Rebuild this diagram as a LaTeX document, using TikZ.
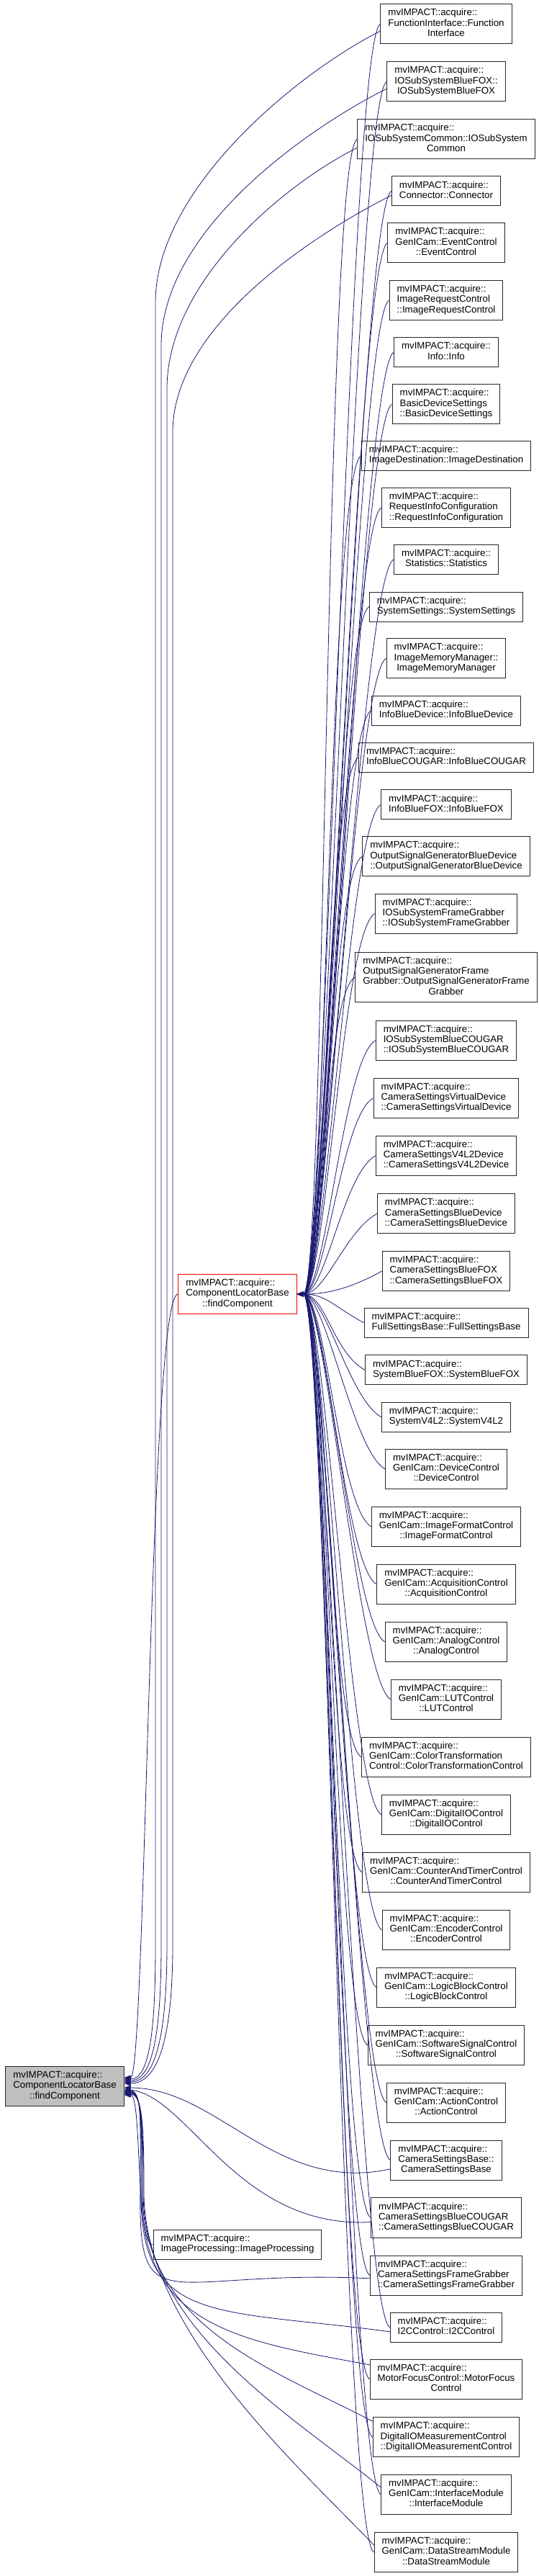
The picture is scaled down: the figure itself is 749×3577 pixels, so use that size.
\documentclass[tikz,border=0pt]{standalone}
\usepackage{fontspec}
\newfontfamily\dotfont{Liberation Sans}
\usepackage{xcolor}
\usepackage{tikz}
\usetikzlibrary{arrows.meta}

\definecolor{edgeblue}{HTML}{191970}
\definecolor{focusgray}{HTML}{BFBFBF}
\newcommand{\dotlbl}[2]{\begin{tabular}{@{}l@{}}#1\\\multicolumn{1}{@{}c@{}}{#2}\end{tabular}}

\begin{document}
\begin{tikzpicture}[
    x=1pt, y=-1pt,
    >={Triangle[length=9pt,width=7pt]},
    member/.style={draw=black!85, line width=1pt, fill=white, inner xsep=10.5pt, inner ysep=6.3pt,
      font=\dotfont\fontsize{13.3}{14.2}\selectfont},
    focus/.style={member, fill=focusgray},
    truncated/.style={member, draw=red},
    call/.style={<-, draw=edgeblue, line width=0.8pt}
  ]
  \useasboundingbox (0,0) rectangle (749,3577);
  % callee and direct callers
  \node[focus] (focus) at (90,2897) {\dotlbl{mvIMPACT::acquire::\\ComponentLocatorBase}{::findComponent}};
  \node[truncated] (fcomp) at (330,1797) {\dotlbl{mvIMPACT::acquire::\\ComponentLocatorBase}{::findComponent}};
  \node[member] (improc) at (330,3117) {\dotlbl{mvIMPACT::acquire::}{ImageProcessing::ImageProcessing}};
  % callers of the two findComponent overloads
  \node[member] (fi) at (620,33.2) {\dotlbl{mvIMPACT::acquire::\\FunctionInterface::Function}{Interface}};
  \node[member] (iobfox) at (620,113.2) {\dotlbl{mvIMPACT::acquire::\\IOSubSystemBlueFOX::}{IOSubSystemBlueFOX}};
  \node[member] (iocommon) at (620,193.2) {\dotlbl{mvIMPACT::acquire::\\IOSubSystemCommon::IOSubSystem}{Common}};
  \node[member] (conn) at (620,265.3) {\dotlbl{mvIMPACT::acquire::}{Connector::Connector}};
  \node[member] (evctrl) at (620,337.2) {\dotlbl{mvIMPACT::acquire::\\GenICam::EventControl}{::EventControl}};
  \node[member] (irctrl) at (620,417) {\dotlbl{mvIMPACT::acquire::\\ImageRequestControl}{::ImageRequestControl}};
  \node[member] (info) at (620,489.2) {\dotlbl{mvIMPACT::acquire::}{Info::Info}};
  \node[member] (basicds) at (620,561.2) {\dotlbl{mvIMPACT::acquire::\\BasicDeviceSettings}{::BasicDeviceSettings}};
  \node[member] (imgdest) at (620,632.8) {\dotlbl{mvIMPACT::acquire::}{ImageDestination::ImageDestination}};
  \node[member] (reqinfo) at (620,705) {\dotlbl{mvIMPACT::acquire::\\RequestInfoConfiguration}{::RequestInfoConfiguration}};
  \node[member] (stats) at (620,776.8) {\dotlbl{mvIMPACT::acquire::}{Statistics::Statistics}};
  \node[member] (syssettings) at (620,842.5) {\dotlbl{mvIMPACT::acquire::}{SystemSettings::SystemSettings}};
  \node[member] (imgmem) at (620,914.2) {\dotlbl{mvIMPACT::acquire::\\ImageMemoryManager::}{ImageMemoryManager}};
  \node[member] (infobd) at (620,986.5) {\dotlbl{mvIMPACT::acquire::}{InfoBlueDevice::InfoBlueDevice}};
  \node[member] (infobc) at (620,1052) {\dotlbl{mvIMPACT::acquire::}{InfoBlueCOUGAR::InfoBlueCOUGAR}};
  \node[member] (infobf) at (620,1117.3) {\dotlbl{mvIMPACT::acquire::}{InfoBlueFOX::InfoBlueFOX}};
  \node[member] (osgbd) at (620,1189.2) {\dotlbl{mvIMPACT::acquire::\\OutputSignalGeneratorBlueDevice}{::OutputSignalGeneratorBlueDevice}};
  \node[member] (iofg) at (620,1268.8) {\dotlbl{mvIMPACT::acquire::\\IOSubSystemFrameGrabber}{::IOSubSystemFrameGrabber}};
  \node[member] (osgfg) at (620,1357) {\dotlbl{mvIMPACT::acquire::\\OutputSignalGeneratorFrame\\Grabber::OutputSignalGeneratorFrame}{Grabber}};
  \node[member] (iobc) at (620,1444.8) {\dotlbl{mvIMPACT::acquire::\\IOSubSystemBlueCOUGAR}{::IOSubSystemBlueCOUGAR}};
  \node[member] (csvirt) at (620,1524.7) {\dotlbl{mvIMPACT::acquire::\\CameraSettingsVirtualDevice}{::CameraSettingsVirtualDevice}};
  \node[member] (csv4l2) at (620,1604.8) {\dotlbl{mvIMPACT::acquire::\\CameraSettingsV4L2Device}{::CameraSettingsV4L2Device}};
  \node[member] (csbd) at (620,1685.2) {\dotlbl{mvIMPACT::acquire::\\CameraSettingsBlueDevice}{::CameraSettingsBlueDevice}};
  \node[member] (csbf) at (620,1765) {\dotlbl{mvIMPACT::acquire::\\CameraSettingsBlueFOX}{::CameraSettingsBlueFOX}};
  \node[member] (fullsb) at (620,1836.8) {\dotlbl{mvIMPACT::acquire::}{FullSettingsBase::FullSettingsBase}};
  \node[member] (sysbf) at (620,1902.3) {\dotlbl{mvIMPACT::acquire::}{SystemBlueFOX::SystemBlueFOX}};
  \node[member] (sysv4l2) at (620,1967.7) {\dotlbl{mvIMPACT::acquire::}{SystemV4L2::SystemV4L2}};
  \node[member] (devctrl) at (620,2039.8) {\dotlbl{mvIMPACT::acquire::\\GenICam::DeviceControl}{::DeviceControl}};
  \node[member] (ifmtctrl) at (620,2119.8) {\dotlbl{mvIMPACT::acquire::\\GenICam::ImageFormatControl}{::ImageFormatControl}};
  \node[member] (acqctrl) at (620,2199.8) {\dotlbl{mvIMPACT::acquire::\\GenICam::AcquisitionControl}{::AcquisitionControl}};
  \node[member] (anactrl) at (620,2279.8) {\dotlbl{mvIMPACT::acquire::\\GenICam::AnalogControl}{::AnalogControl}};
  \node[member] (lutctrl) at (620,2359.8) {\dotlbl{mvIMPACT::acquire::\\GenICam::LUTControl}{::LUTControl}};
  \node[member] (colctrl) at (620,2439.8) {\dotlbl{mvIMPACT::acquire::\\GenICam::ColorTransformation}{Control::ColorTransformationControl}};
  \node[member] (dioctrl) at (620,2519.8) {\dotlbl{mvIMPACT::acquire::\\GenICam::DigitalIOControl}{::DigitalIOControl}};
  \node[member] (catctrl) at (620,2599.8) {\dotlbl{mvIMPACT::acquire::\\GenICam::CounterAndTimerControl}{::CounterAndTimerControl}};
  \node[member] (encctrl) at (620,2679.8) {\dotlbl{mvIMPACT::acquire::\\GenICam::EncoderControl}{::EncoderControl}};
  \node[member] (lbctrl) at (620,2759.8) {\dotlbl{mvIMPACT::acquire::\\GenICam::LogicBlockControl}{::LogicBlockControl}};
  \node[member] (swsctrl) at (620,2839.8) {\dotlbl{mvIMPACT::acquire::\\GenICam::SoftwareSignalControl}{::SoftwareSignalControl}};
  \node[member] (actctrl) at (620,2919.8) {\dotlbl{mvIMPACT::acquire::\\GenICam::ActionControl}{::ActionControl}};
  \node[member] (csbase) at (620,2999.8) {\dotlbl{mvIMPACT::acquire::\\CameraSettingsBase::}{CameraSettingsBase}};
  \node[member] (csbc) at (620,3079.5) {\dotlbl{mvIMPACT::acquire::\\CameraSettingsBlueCOUGAR}{::CameraSettingsBlueCOUGAR}};
  \node[member] (csfg) at (620,3159.8) {\dotlbl{mvIMPACT::acquire::\\CameraSettingsFrameGrabber}{::CameraSettingsFrameGrabber}};
  \node[member] (i2c) at (620,3231.8) {\dotlbl{mvIMPACT::acquire::}{I2CControl::I2CControl}};
  \node[member] (motor) at (620,3303.7) {\dotlbl{mvIMPACT::acquire::\\MotorFocusControl::MotorFocus}{Control}};
  \node[member] (diom) at (620,3384.2) {\dotlbl{mvIMPACT::acquire::\\DigitalIOMeasurementControl}{::DigitalIOMeasurementControl}};
  \node[member] (ifmod) at (620,3463.8) {\dotlbl{mvIMPACT::acquire::\\GenICam::InterfaceModule}{::InterfaceModule}};
  \node[member] (dsmod) at (620,3544) {\dotlbl{mvIMPACT::acquire::\\GenICam::DataStreamModule}{::DataStreamModule}};

  % calls into the truncated overload
  \foreach \n in {fi,iobfox,iocommon,conn,evctrl,irctrl,info,basicds,imgdest,reqinfo,stats,syssettings,
      imgmem,infobd,infobc,infobf,osgbd,iofg,osgfg,iobc,csvirt,csv4l2,csbd,csbf}
    \draw[call] (fcomp.east) .. controls +(40,0) and +(-45,25) .. (\n.west);
  \foreach \n in {fullsb,sysbf,sysv4l2,devctrl,ifmtctrl,acqctrl,anactrl,lutctrl,colctrl,dioctrl,catctrl,
      encctrl,lbctrl,swsctrl,actctrl,csbase,csbc,csfg,i2c,motor,diom,ifmod,dsmod}
    \draw[call] (fcomp.east) .. controls +(40,0) and +(-45,-25) .. (\n.west);

  % direct calls into ComponentLocatorBase::findComponent
  \draw[call] ([yshift=12pt]focus.east) .. controls +(30,0) and +(-40,0) .. (fcomp.west);
  \draw[call] ([yshift=10pt]focus.east) .. controls +(35,0) and +(0,120) .. (216,2700) -- (216,420)
    .. controls +(0,-160) and +(-110,55) .. ([yshift=-10pt]fi.west);
  \draw[call] ([yshift=8pt]focus.east) .. controls +(40,0) and +(0,120) .. (224,2700) -- (224,480)
    .. controls +(0,-160) and +(-110,55) .. ([yshift=-10pt]iobfox.west);
  \draw[call] ([yshift=6pt]focus.east) .. controls +(45,0) and +(0,120) .. (232,2700) -- (232,540)
    .. controls +(0,-150) and +(-100,50) .. ([yshift=-12pt]iocommon.west);
  \draw[call] ([yshift=4pt]focus.east) .. controls +(50,0) and +(0,120) .. (240,2700) -- (240,600)
    .. controls +(0,-150) and +(-100,50) .. ([yshift=-6pt]conn.west);
  \draw[call] ([yshift=-2pt]focus.east) .. controls +(130,0) and +(-160,35) .. ([yshift=-12pt]csbase.west);
  \draw[call] ([yshift=-4pt]focus.east) .. controls +(90,10) and +(-185,10) .. ([yshift=-6pt]csbc.west);
  \draw[call] ([yshift=-6pt]focus.east) .. controls +(25,0) and +(0,-90) .. (195,3040)
    .. controls (192,3230) and (230,3150) .. ([yshift=-4pt]csfg.west);
  \draw[call] ([yshift=-7pt]focus.east) .. controls +(25,0) and +(0,-90) .. (196,3040)
    .. controls (193,3230) and (300,3205) .. ([yshift=-6pt]i2c.west);
  \draw[call] ([yshift=-8pt]focus.east) .. controls +(25,0) and +(0,-90) .. (197,3040)
    .. controls (194,3230) and (330,3250) .. ([yshift=20pt]motor.west);
  \draw[call] ([yshift=-9pt]focus.east) .. controls +(25,0) and +(0,-90) .. (198,3040)
    .. controls (195,3230) and (380,3290) .. ([yshift=22pt]diom.west);
  \draw[call] ([yshift=-10pt]focus.east) .. controls +(25,0) and +(0,-90) .. (199,3040)
    .. controls (196,3230) and (400,3350) .. ([yshift=10pt]ifmod.west);
  \draw[call] ([yshift=-11pt]focus.east) .. controls +(25,0) and +(0,-90) .. (200,3040)
    .. controls (197,3230) and (410,3420) .. ([yshift=10pt]dsmod.west);
  \draw[call] ([yshift=-12pt]focus.east) .. controls +(25,0) and +(-25,0) .. (improc.west);
\end{tikzpicture}
\end{document}
